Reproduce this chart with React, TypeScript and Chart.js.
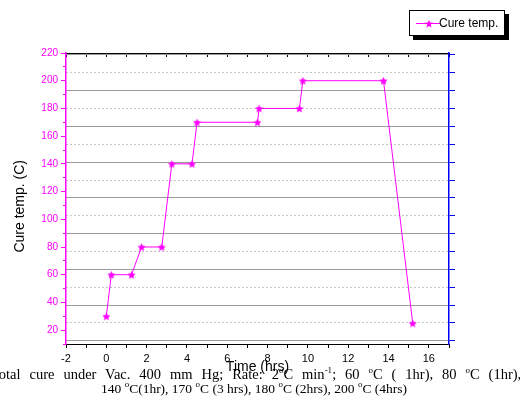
import React, { useEffect, useRef } from "react";
import { Chart, registerables } from "chart.js";

Chart.register(...registerables);

// ---- data ----
const timeHrs = [0, 0.25, 1.25, 1.75, 2.75, 3.25, 4.25, 4.5, 7.5, 7.58, 9.58, 9.75, 13.75, 15.2];
const cureTemp = [30, 60, 60, 80, 80, 140, 140, 170, 170, 180, 180, 200, 200, 25];
const seriesLabel = "Cure temp.";

const xMin = -2;
const xMax = 17;
const xTickValues = [-2, -1, 0, 1, 2, 3, 4, 5, 6, 7, 8, 9, 10, 11, 12, 13, 14, 15, 16, 17];
const yMin = 10;
const yMax = 220;
const yTickValues = [10, 20, 30, 40, 50, 60, 70, 80, 90, 100, 110, 120, 130, 140, 150, 160, 170, 180, 190, 200, 210, 220];
// right (blue) axis, whose ticks carry the grid lines
const rMin = -0.092;
const rMax = 8.056;
const rTickValues = [0, 0.5, 1, 1.5, 2, 2.5, 3, 3.5, 4, 4.5, 5, 5.5, 6, 6.5, 7, 7.5, 8];

const xTitle = "Time (hrs)";
const yTitle = "Cure temp. (C)    ";

const MAGENTA = "#ff00ff";
const SANS = '"Liberation Sans", Arial, sans-serif';
const SERIF = '"Liberation Serif", "Times New Roman", serif';

function starPoints(cx: number, cy: number, R: number, r: number): [number, number][] {
  const pts: [number, number][] = [];
  for (let i = 0; i < 10; i++) {
    const a = -Math.PI / 2 + (i * Math.PI) / 5;
    const rad = i % 2 === 0 ? R : r;
    pts.push([cx + rad * Math.cos(a), cy + rad * Math.sin(a)]);
  }
  return pts;
}

function makeStar(size: number, color: string): HTMLCanvasElement {
  const c = document.createElement("canvas");
  c.width = size;
  c.height = size;
  const g = c.getContext("2d")!;
  const pts = starPoints(size / 2, size / 2 + 0.5, size / 2 - 0.3, (size / 2) * 0.45);
  g.beginPath();
  pts.forEach(([x, y], i) => (i === 0 ? g.moveTo(x, y) : g.lineTo(x, y)));
  g.closePath();
  g.fillStyle = color;
  g.fill();
  return c;
}

export default function App() {
  const ref = useRef<HTMLCanvasElement>(null);

  useEffect(() => {
    const star = makeStar(9, MAGENTA);
    const chart = new Chart(ref.current!, {
      type: "line",
      data: {
        datasets: [
          {
            label: seriesLabel,
            data: timeHrs.map((t, i) => ({ x: t, y: cureTemp[i] })),
            borderColor: MAGENTA,
            backgroundColor: MAGENTA,
            borderWidth: 1,
            pointStyle: star as any,
            pointRadius: 4,
            tension: 0,
            xAxisID: "x",
            yAxisID: "y",
          },
        ],
      },
      options: {
        responsive: false,
        animation: false,
        layout: { padding: { left: 0, right: 0, top: 0, bottom: 34 } },
        plugins: { legend: { display: false }, tooltip: { enabled: false } },
        scales: {
          x: {
            type: "linear",
            position: "bottom",
            min: xMin,
            max: xMax,
            afterBuildTicks: (s: any) => {
              s.ticks = xTickValues.map((v) => ({ value: v }));
            },
            ticks: {
              autoSkip: false,
              maxRotation: 0,
              color: "#000",
              padding: 4,
              font: { family: SANS, size: 11 },
              callback: (v: any) => (Number(v) % 2 === 0 ? String(v) : ""),
            },
            grid: { drawOnChartArea: false, drawTicks: true, tickLength: 4, tickColor: "#000", tickWidth: 1 },
            border: { color: "#000", width: 1 },
            title: { display: true, text: xTitle, color: "#000", padding: 0, font: { family: SANS, size: 14 } },
            afterFit: (s: any) => {
              s.height = 32;
            },
          },
          x2: {
            type: "linear",
            position: "top",
            min: xMin,
            max: xMax,
            afterBuildTicks: (s: any) => {
              s.ticks = xTickValues.map((v) => ({ value: v }));
            },
            ticks: { display: false, autoSkip: false },
            grid: { drawOnChartArea: false, drawTicks: true, tickLength: -4, tickColor: "#000", tickWidth: 1 },
            border: { color: "#000", width: 1 },
            afterFit: (s: any) => {
              s.height = 53;
            },
          },
          y: {
            type: "linear",
            position: "left",
            min: yMin,
            max: yMax,
            afterBuildTicks: (s: any) => {
              s.ticks = yTickValues.map((v) => ({ value: v }));
            },
            ticks: {
              autoSkip: false,
              color: MAGENTA,
              padding: 3,
              font: { family: SANS, size: 10 },
              callback: (v: any) => (Number(v) % 20 === 0 ? String(v) : ""),
            },
            grid: {
              drawOnChartArea: false,
              drawTicks: true,
              tickLength: 5,
              tickColor: MAGENTA,
              tickWidth: 1,
              tickBorderDash: (ctx: any) => (ctx.tick && ctx.tick.value % 20 !== 0 ? [0, 2, 20] : []),
            },
            border: { color: MAGENTA, width: 1.5 },
            title: { display: true, text: yTitle, color: "#000", padding: { top: 12, bottom: 0 }, font: { family: SANS, size: 14 } },
            afterFit: (s: any) => {
              s.width = 66;
            },
          },
          y2: {
            type: "linear",
            position: "right",
            min: rMin,
            max: rMax,
            afterBuildTicks: (s: any) => {
              s.ticks = rTickValues.map((v) => ({ value: v }));
            },
            ticks: { display: false, autoSkip: false },
            grid: {
              drawOnChartArea: true,
              drawTicks: true,
              tickLength: 6,
              tickColor: "#0000ff",
              tickWidth: 1,
              lineWidth: 1,
              color: (ctx: any) => (ctx.tick && ctx.tick.value % 1 !== 0 ? "#c4c4c4" : "#9a9a9a"),
            },
            border: {
              color: "#0000ff",
              width: 1.5,
              dash: (ctx: any) => (ctx.tick && ctx.tick.value % 1 !== 0 ? [2, 2] : []),
            },
            afterFit: (s: any) => {
              s.width = 71;
            },
          },
        },
      },
    } as any);
    return () => chart.destroy();
  }, []);

  const legendStar = starPoints(15, 13, 4.2, 1.9)
    .map(([x, y]) => `${x.toFixed(2)},${y.toFixed(2)}`)
    .join(" ");

  const sup: React.CSSProperties = { fontSize: 9, lineHeight: 0, verticalAlign: "6px" };

  return (
    <div style={{ position: "fixed", left: 0, top: 0, width: 520, height: 410, overflow: "hidden", background: "#fff" }}>
      <canvas ref={ref} width={520} height={410} style={{ position: "absolute", left: 0, top: 0, width: 520, height: 410 }} />
      <div
        style={{
          position: "absolute",
          left: 409,
          top: 10,
          width: 96,
          height: 26,
          boxSizing: "border-box",
          border: "1px solid #000",
          background: "#fff",
          boxShadow: "4px 4px 0 #000",
          fontFamily: SANS,
          fontSize: 12,
          color: "#000",
        }}
      >
        <svg width={30} height={24} style={{ position: "absolute", left: 4, top: 0 }}>
          <line x1={2} y1={12.5} x2={26} y2={12.5} stroke={MAGENTA} strokeWidth={1} />
          <polygon points={legendStar} fill={MAGENTA} />
        </svg>
        <span style={{ position: "absolute", left: 29, top: 5, lineHeight: "14px", whiteSpace: "nowrap" }}>{seriesLabel}</span>
      </div>
      <div
        style={{
          position: "absolute",
          left: -9,
          top: 367,
          fontFamily: SERIF,
          fontSize: 14.5,
          lineHeight: "14px",
          color: "#000",
          whiteSpace: "nowrap",
          wordSpacing: 5.3,
        }}
      >
        Total cure under Vac. 400 mm Hg; Rate: 2<sup style={sup}>o</sup>C min<sup style={sup}>-1</sup>; 60 <sup style={sup}>o</sup>C ( 1hr), 80{" "}
        <sup style={sup}>o</sup>C (1hr),
      </div>
      <div
        style={{
          position: "absolute",
          left: 254 - 400,
          width: 800,
          top: 382,
          textAlign: "center",
          fontFamily: SERIF,
          fontSize: 13.5,
          lineHeight: "14px",
          color: "#000",
          whiteSpace: "nowrap",
        }}
      >
        140 <sup style={sup}>o</sup>C(1hr), 170 <sup style={sup}>o</sup>C (3 hrs), 180 <sup style={sup}>o</sup>C (2hrs), 200 <sup style={sup}>o</sup>C (4hrs)
      </div>
    </div>
  );
}
